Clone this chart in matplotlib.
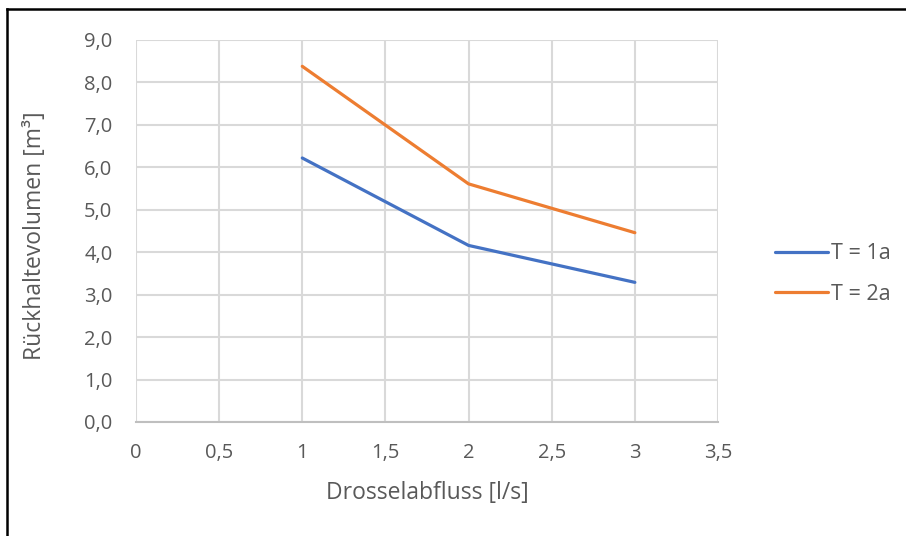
import matplotlib
matplotlib.use("Agg")
from matplotlib import pyplot as plt
from matplotlib.lines import Line2D
from matplotlib.ticker import FuncFormatter, MultipleLocator

# data
drossel = [1, 2, 3]
t1a = [6.22, 4.16, 3.29]
t2a = [8.38, 5.61, 4.46]
labels = ["T = 1a", "T = 2a"]

plt.rcParams['font.family'] = ['Open Sans', 'DejaVu Sans']
grey = '#595959'

W, H = 906, 536
fig = plt.figure(figsize=(W / 100, H / 100), dpi=100)

# axes placed in pixel coordinates
left, right, top, bottom = 136, 718, 40, 422
ax = fig.add_axes([left / W, 1 - bottom / H, (right - left) / W, (bottom - top) / H])

ax.plot(drossel, t1a, color='#4472C4', lw=2.3, solid_capstyle='round', label=labels[0], zorder=3)
ax.plot(drossel, t2a, color='#ED7D31', lw=2.3, solid_capstyle='round', label=labels[1], zorder=3)

ax.set_xlim(0, 3.5)
ax.set_ylim(0, 9)
ax.xaxis.set_major_locator(MultipleLocator(0.5))
ax.yaxis.set_major_locator(MultipleLocator(1))

ax.xaxis.set_major_formatter(FuncFormatter(lambda v, p: ('%g' % v).replace('.', ',')))
ax.yaxis.set_major_formatter(FuncFormatter(lambda v, p: ('%.1f' % v).replace('.', ',')))

ax.grid(True, color='#D9D9D9', lw=1.5, zorder=0)
ax.set_axisbelow(True)
for s in ['top', 'right', 'left']:
    ax.spines[s].set_visible(False)
ax.spines['bottom'].set_color('#BFBFBF')
ax.spines['bottom'].set_linewidth(1.5)
ax.tick_params(length=0, labelsize=14.5, colors=grey)
ax.tick_params(axis='y', pad=17)
ax.tick_params(axis='x', pad=15)

# axis titles at their pixel spots
fig.text(427 / W, 1 - 493 / H, "Drosselabfluss [l/s]", fontsize=16.5, color=grey,
         ha='center', va='center')
fig.text(35 / W, 1 - 236 / H, "Rückhaltevolumen [m³]", fontsize=16.5, color=grey,
         ha='center', va='center', rotation=90)

fig.legend(loc='center left', bbox_to_anchor=(775 / W, 1 - 274 / H), frameon=False,
           fontsize=15.5, labelcolor=grey, handlelength=2.45, handletextpad=0.15,
           labelspacing=0.9, borderpad=0, borderaxespad=0)

# black frame of the screenshot (top and left only)
fig.add_artist(Line2D([7 / W, 1], [1 - 9 / H, 1 - 9 / H], color='black', lw=1.8, transform=fig.transFigure))
fig.add_artist(Line2D([7 / W, 7 / W], [0, 1 - 9 / H], color='black', lw=1.8, transform=fig.transFigure))

fig.savefig("out.png", dpi=100)
